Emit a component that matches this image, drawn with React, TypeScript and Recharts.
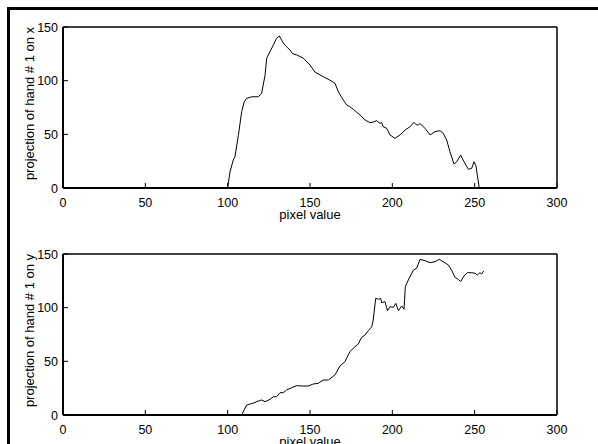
import { LineChart, Line, XAxis, YAxis } from "recharts";

// projection on x: pixel value / count
const projXPixels = [
  100, 101.4, 103.4, 104.4, 106.5, 108.5, 110, 111.5, 114.6, 118.6, 120.6, 122.7, 123.7, 125.7,
  127.7, 129.7, 131.4, 133.8, 135.5, 137.8, 139.5, 141.9, 145.9, 150, 153, 158, 162, 165.2, 167.2,
  170.2, 172.3, 174, 176.3, 178, 180.4, 183.4, 186.4, 188.5, 190.5, 192.5, 193.5, 194.5, 196.6,
  198.6, 201.6, 204.7, 207.7, 210.7, 213.1, 214.5, 215.8, 216.8, 217.8, 219.8, 222.9, 225.9, 228.9,
  230.9, 233, 235, 237.4, 239.1, 241.5, 243.5, 246.2, 248.2, 249.6, 250.8, 251.6, 252.8,
];
const projXValues = [
  0, 15, 26, 29, 49, 71, 80, 83.5, 85, 85, 88, 105, 121, 127, 133, 139.5, 141.6, 135, 132, 128.6,
  125, 124, 121, 114.6, 108, 103.7, 100.6, 97.5, 89.7, 82, 77.3, 76, 73.3, 71, 68, 63.4, 60.9, 61.5,
  62.7, 60.2, 61, 57, 55.6, 49.4, 46.3, 49.4, 54, 57, 61.2, 59, 58.7, 60, 58.7, 55.6, 49.4, 52.5,
  53.4, 51, 44.7, 33.8, 22.4, 24.5, 30.7, 24.5, 17.4, 18.3, 24.5, 20.5, 12, 0,
];

// projection on y
const projYPixels = [
  108.5, 111.5, 113.6, 115.5, 117.6, 120.6, 122.7, 125.7, 127.7, 129.7, 131.8, 133.8, 135.8, 138.9,
  141.9, 145.9, 148.9, 152, 155, 158, 161.1, 165.2, 168.2, 171.2, 174.2, 177.3, 179.3, 181.4, 183.4,
  185.4, 187.5, 188.4, 189.9, 191.5, 192.9, 193.5, 195.5, 197.1, 198.6, 200.6, 202.1, 203.7, 205.7,
  207.1, 207.9, 209.7, 212.8, 214.8, 216.8, 219.8, 222.9, 225.9, 228.5, 230.9, 234, 236, 238, 240,
  241.5, 243.5, 245.5, 248.2, 250.2, 251.6, 253.2, 254.2, 255.6,
];
const projYValues = [
  0, 9.3, 10.2, 11, 12.4, 14, 12.4, 14.6, 17, 17, 20.8, 20.8, 23.3, 25.5, 27.3, 27, 27, 28.9, 29.5,
  32.6, 32.6, 37.3, 45.7, 49.7, 59, 63.6, 66.2, 72.4, 74.5, 78.5, 82.3, 88.5, 108.7, 107.8, 108.7,
  104.6, 105.6, 97.2, 100.9, 100.3, 104, 97.2, 101.6, 98.5, 119.5, 125.8, 135, 136.7, 145, 143.8,
  141.9, 142.8, 145, 142.8, 139.8, 135, 128.3, 126.4, 124.2, 129.5, 132.6, 132.6, 132, 130.4, 132.6,
  131.4, 134.4,
];

const xTicks = [0, 50, 100, 150, 200, 250, 300];
const yTicks = [0, 50, 100, 150];

const FONT = "'Liberation Sans', Arial, Helvetica, sans-serif";

// tick labels only; the inward tick marks come from negative tickSize
const BottomTick = (props: any) => {
  const { x, y, payload } = props;
  return (
    <text x={x} y={y + 18.5} textAnchor="middle" fontSize={12.5} fontFamily={FONT} fill="#000">
      {payload.value}
    </text>
  );
};

const LeftTick = (props: any) => {
  const { x, y, payload } = props;
  return (
    <text x={x - 5} y={y} dy="0.36em" textAnchor="end" fontSize={12.5} fontFamily={FONT} fill="#000">
      {payload.value}
    </text>
  );
};

const xLabel = (props: any) => {
  const vb = props.viewBox;
  return (
    <text x={vb.x + vb.width / 2} y={vb.y + 31} textAnchor="middle" fontSize={13} fontFamily={FONT} fill="#000">
      pixel value
    </text>
  );
};

const makeYLabel = (text: string) => (props: any) => {
  const vb = props.viewBox;
  const cx = 29.5;
  const cy = vb.y + vb.height / 2 - 4;
  return (
    <text
      x={cx}
      y={cy}
      dy="0.36em"
      textAnchor="middle"
      transform={`rotate(-90, ${cx}, ${cy})`}
      fontSize={13}
      fontFamily={FONT}
      fill="#000"
    >
      {text}
    </text>
  );
};

type PanelProps = {
  data: { x: number; v: number }[];
  ylabel: string;
  top: number;
  bottom: number;
};

const Panel = ({ data, ylabel, top, bottom }: PanelProps) => (
  <LineChart width={598} height={222} data={data} margin={{ top, right: 40, left: 8, bottom: 0 }}>
    <XAxis
      dataKey="x"
      type="number"
      domain={[0, 300]}
      ticks={xTicks}
      allowDataOverflow
      height={bottom}
      tickSize={-5}
      tickMargin={5}
      tick={BottomTick}
      tickLine={{ stroke: "#000" }}
      axisLine={{ stroke: "#000", strokeWidth: 2 }}
      label={{ content: xLabel }}
    />
    <XAxis
      xAxisId="top"
      orientation="top"
      dataKey="x"
      type="number"
      domain={[0, 300]}
      ticks={xTicks}
      allowDataOverflow
      height={1}
      tickSize={-5}
      tick={false}
      tickLine={{ stroke: "#000" }}
      axisLine={{ stroke: "#000", strokeWidth: 1.5 }}
    />
    <YAxis
      type="number"
      domain={[0, 150]}
      ticks={yTicks}
      allowDataOverflow
      width={55}
      tickSize={-5}
      tickMargin={5}
      tick={LeftTick}
      tickLine={{ stroke: "#000" }}
      axisLine={{ stroke: "#000", strokeWidth: 2 }}
      label={{ content: makeYLabel(ylabel) }}
    />
    <YAxis
      yAxisId="right"
      orientation="right"
      type="number"
      domain={[0, 150]}
      ticks={yTicks}
      allowDataOverflow
      width={1}
      tickSize={-5}
      tick={false}
      tickLine={{ stroke: "#000" }}
      axisLine={{ stroke: "#000", strokeWidth: 1.5 }}
    />
    {/* invisible copy so the top/right box axes get drawn */}
    <Line
      xAxisId="top"
      yAxisId="right"
      type="linear"
      dataKey="v"
      stroke="none"
      dot={false}
      activeDot={false}
      isAnimationActive={false}
    />
    <Line
      type="linear"
      dataKey="v"
      stroke="#000"
      strokeWidth={1}
      dot={false}
      activeDot={false}
      isAnimationActive={false}
    />
  </LineChart>
);

export default function App() {
  const dataX = projXPixels.map((x, i) => ({ x, v: projXValues[i] }));
  const dataY = projYPixels.map((x, i) => ({ x, v: projYValues[i] }));
  return (
    <div
      style={{
        position: "absolute",
        left: 0,
        top: 0,
        width: 598,
        height: 444,
        overflow: "hidden",
        background: "#fff",
        fontFamily: FONT,
      }}
    >
      <div
        style={{
          position: "absolute",
          left: 7,
          top: 7,
          width: 700,
          height: 600,
          borderTop: "3px solid #000",
          borderLeft: "3px solid #000",
        }}
      />
      <div style={{ position: "absolute", left: 0, top: 0 }}>
        <Panel data={dataX} ylabel="projection of hand # 1 on x" top={26} bottom={34} />
      </div>
      <div style={{ position: "absolute", left: 0, top: 222 }}>
        <Panel data={dataY} ylabel="projection of hand # 1 on y" top={31} bottom={29} />
      </div>
    </div>
  );
}
